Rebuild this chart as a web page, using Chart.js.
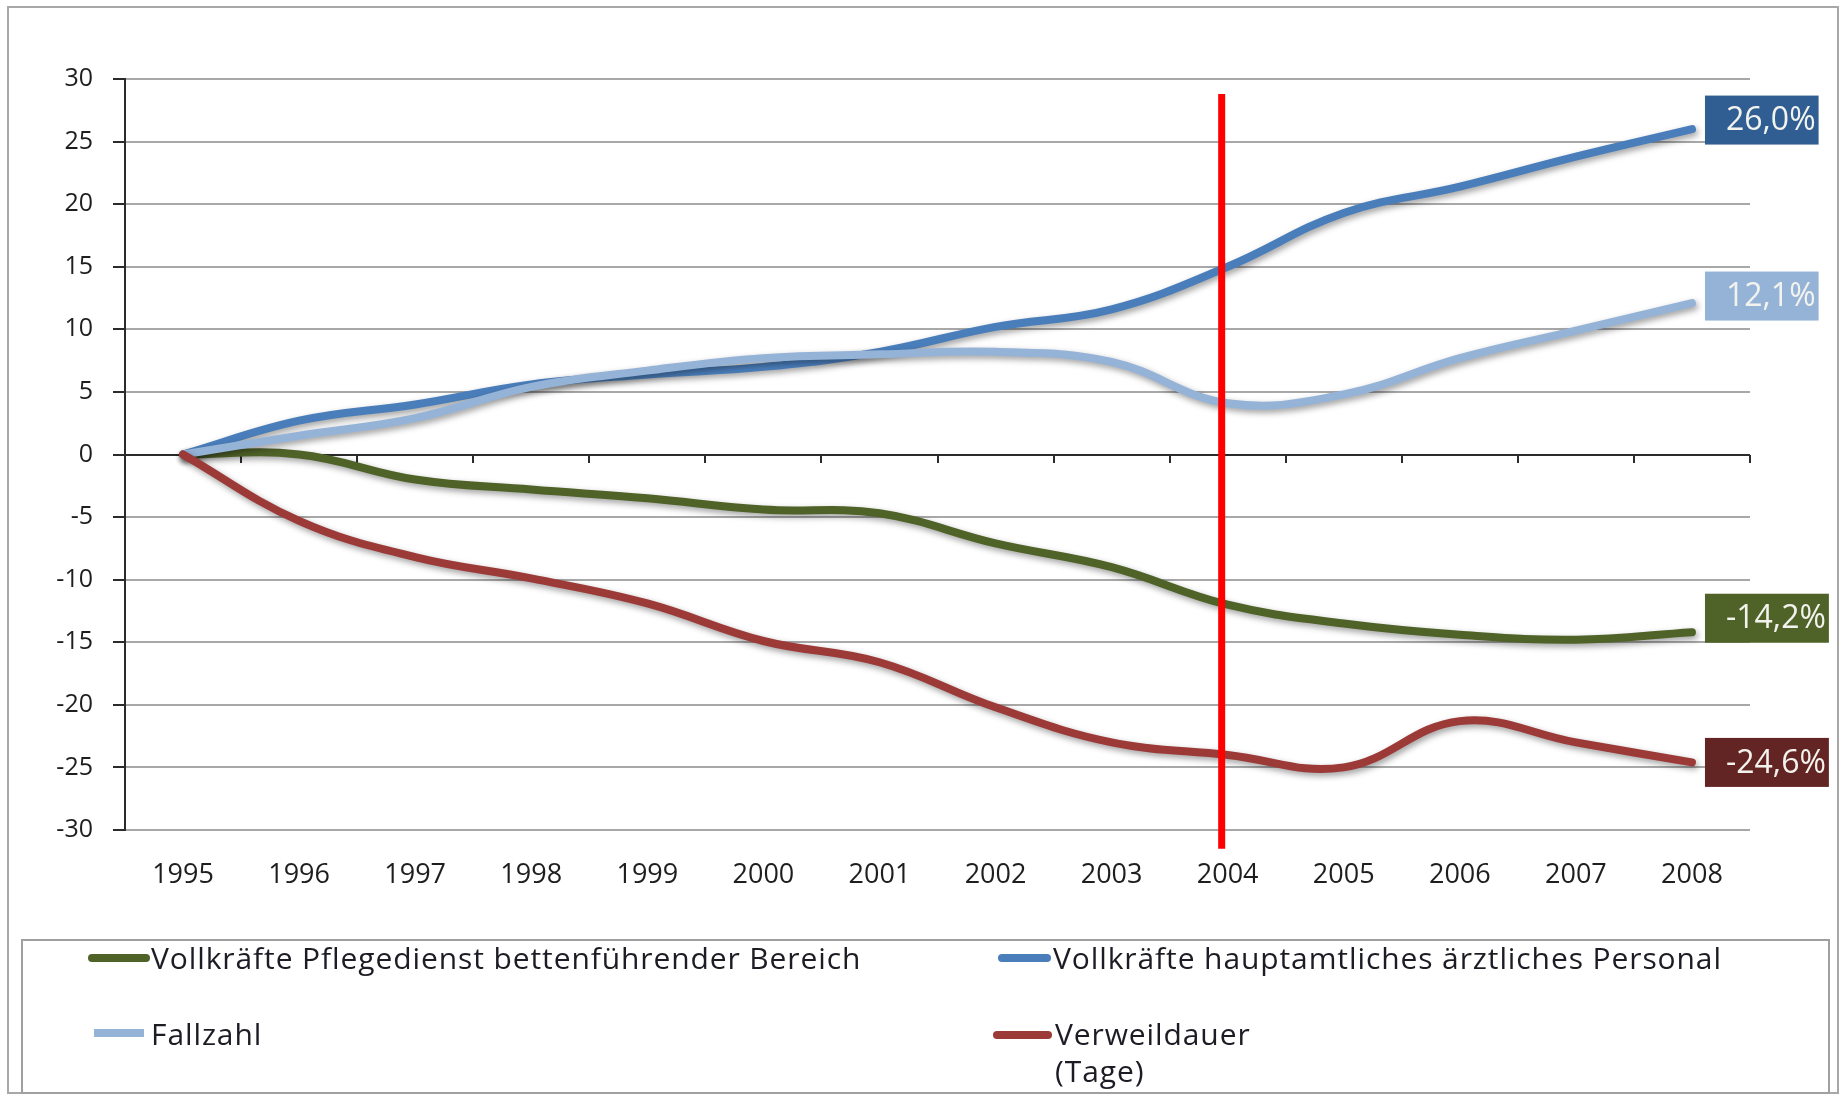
<!DOCTYPE html>
<html lang="de">
<head>
<meta charset="utf-8">
<title>Personal, Fallzahl und Verweildauer 1995–2008</title>
<script src="https://cdn.jsdelivr.net/npm/chart.js@4.4.1/dist/chart.umd.min.js"></script>
<style>
  html, body { margin: 0; padding: 0; background: #ffffff; }
  #wrap { position: relative; width: 1845px; height: 1101px; overflow: hidden; font-family: "Open Sans", sans-serif; }
  #frame { position: absolute; left: 7px; top: 6px; width: 1832px; height: 1088px; border: 2px solid #a8a8a8; box-sizing: border-box; }
  canvas { position: absolute; left: 0; top: 0; }
  #legend { position: absolute; left: 21px; top: 939px; width: 1809px; height: 155px; border: 2px solid #a0a0a0; box-sizing: border-box; background: #ffffff; }
  .swatch { position: absolute; height: 8px; border-radius: 4px; }
  .ltext { position: absolute; font-size: 30px; letter-spacing: 0.9px; line-height: 37px; color: #1c1c24; white-space: normal; }
</style>
</head>
<body>
<div id="wrap">
  <div id="frame"></div>
  <canvas id="chart" width="1845" height="1101"></canvas>
  <div id="legend"></div>
</div>
<script>
// Jahre auf der x-Achse
const years = ['1995','1996','1997','1998','1999','2000','2001','2002','2003','2004','2005','2006','2007','2008'];

// Veränderung gegenüber 1995 in Prozent
const pflegedienst = [0, 0.0, -2.0, -2.8, -3.5, -4.4, -4.7, -7.1, -9.0, -12.0, -13.5, -14.4, -14.8, -14.2];
const aerztlich    = [0, 2.7, 4.0, 5.6, 6.4, 7.0, 8.2, 10.2, 11.6, 15.0, 19.3, 21.4, 23.8, 26.0];
const fallzahl     = [0, 1.5, 2.9, 5.4, 6.7, 7.7, 8.0, 8.2, 7.4, 4.1, 4.8, 7.7, 9.9, 12.1];
const verweildauer = [0, -5.3, -8.2, -9.9, -11.9, -14.9, -16.6, -20.2, -23.0, -24.0, -25.0, -21.3, -23.0, -24.6];

const seriesNames = [
  'Vollkräfte Pflegedienst bettenführender Bereich',
  'Vollkräfte hauptamtliches ärztliches Personal',
  'Fallzahl',
  'Verweildauer (Tage)'
];
const seriesValues = [pflegedienst, aerztlich, fallzahl, verweildauer];
const lineColors  = ['#4F6228', '#4A7EBB', '#95B3D7', '#9C3A38'];
const labelColors = ['#4F6228', '#305E93', '#95B3D7', '#632523'];

// y-Achse
const yMin = -30, yMax = 30, yStep = 5;

// senkrechte Markierung beim Jahr 2004
const markerYear = '2004';
const markerTop = 28.8, markerBottom = -31.5;

const FONT = '"Open Sans", sans-serif';

// vertikaler Versatz der Endbeschriftungen (px)
const labelShift = [-14, -9, -7, 0];

const datasets = seriesNames.map((name, i) => ({
  label: name,
  data: seriesValues[i],
  borderColor: lineColors[i],
  backgroundColor: lineColors[i],
  borderWidth: 8,
  borderCapStyle: 'round',
  borderJoinStyle: 'round',
  pointRadius: 0,
  pointHoverRadius: 0,
  tension: 0.4,
  fill: false,
  order: seriesNames.length - i
}));

// Schatten unter den Linien
const shadowPlugin = {
  id: 'lineShadow',
  beforeDatasetDraw(chart) {
    const ctx = chart.ctx;
    ctx.save();
    ctx.shadowColor = 'rgba(0,0,0,0.38)';
    ctx.shadowBlur = 6;
    ctx.shadowOffsetX = 2;
    ctx.shadowOffsetY = 3;
  },
  afterDatasetDraw(chart) {
    chart.ctx.restore();
  }
};

// Nulllinie mit Teilstrichen zwischen den Kategorien
const zeroAxisPlugin = {
  id: 'zeroAxis',
  beforeDatasetsDraw(chart) {
    const { ctx, chartArea, scales } = chart;
    const y0 = Math.round(scales.y.getPixelForValue(0));
    ctx.save();
    ctx.strokeStyle = '#2b2b2b';
    ctx.lineWidth = 2;
    ctx.beginPath();
    ctx.moveTo(chartArea.left, y0);
    ctx.lineTo(chartArea.right, y0);
    const n = years.length;
    for (let k = 0; k <= n; k++) {
      const x = Math.round(scales.x.getPixelForValue(k - 0.5));
      ctx.moveTo(x, y0);
      ctx.lineTo(x, y0 + 8);
    }
    ctx.stroke();
    ctx.restore();
  }
};

// Wertbeschriftung am letzten Punkt jeder Reihe und rote Markierung
const endLabelPlugin = {
  id: 'endLabels',
  afterDatasetsDraw(chart) {
    const { ctx, scales } = chart;
    ctx.save();
    ctx.font = '32px ' + FONT;
    chart.data.datasets.forEach((ds, i) => {
      const meta = chart.getDatasetMeta(i);
      const last = meta.data[meta.data.length - 1];
      const v = ds.data[ds.data.length - 1];
      const text = v.toFixed(1).replace('.', ',') + '%';
      const tw = ctx.measureText(text).width;
      const h = 49;
      const x0 = last.x + 13;
      const w = tw + 24;
      const y0 = last.y + labelShift[i] - h / 2;
      ctx.fillStyle = labelColors[i];
      ctx.fillRect(x0, y0, w, h);
      ctx.fillStyle = '#f3f3ee';
      ctx.textAlign = 'right';
      ctx.textBaseline = 'middle';
      ctx.fillText(text, x0 + w - 3, y0 + h / 2 + 1);
    });
    // rote senkrechte Linie
    const xm = scales.x.getPixelForValue(years.indexOf(markerYear));
    ctx.strokeStyle = '#FF0000';
    ctx.lineWidth = 7;
    ctx.lineCap = 'butt';
    ctx.beginPath();
    ctx.moveTo(xm - 6, scales.y.getPixelForValue(markerTop));
    ctx.lineTo(xm - 6, scales.y.getPixelForValue(markerBottom));
    ctx.stroke();
    ctx.restore();
  }
};

const chart = new Chart(document.getElementById('chart'), {
  type: 'line',
  data: { labels: years, datasets },
  options: {
    responsive: false,
    animation: false,
    devicePixelRatio: 1,
    layout: { padding: { top: 79, right: 95, left: 0, bottom: 0 } },
    plugins: {
      legend: { display: false },
      tooltip: { enabled: false }
    },
    scales: {
      x: {
        type: 'category',
        offset: true,
        grid: { display: false, drawTicks: false },
        border: { display: false },
        ticks: {
          color: '#1e1e1e',
          font: { family: FONT, size: 27 },
          padding: 29,
          maxRotation: 0,
          autoSkip: false
        },
        afterFit(scale) { scale.height = 271; }
      },
      y: {
        min: yMin,
        max: yMax,
        grid: {
          color: '#a8a8a8',
          lineWidth: 2,
          tickLength: 12,
          tickColor: '#2b2b2b',
          tickWidth: 2
        },
        border: { display: true, color: '#2b2b2b', width: 2 },
        ticks: {
          stepSize: yStep,
          color: '#1e1e1e',
          font: { family: FONT, size: 25 },
          padding: 20
        },
        afterFit(scale) { scale.width = 125; }
      }
    }
  },
  plugins: [zeroAxisPlugin, shadowPlugin, endLabelPlugin]
});

// Legende in zwei Spalten (Koordinaten innerhalb des Legendenrahmens)
const legendSlots = [
  { sx: 65, sw: 62, sy: 17, tx: 128, ty: -2, tw: 780 },
  { sx: 975, sw: 53, sy: 17, tx: 1030, ty: -2, tw: 780 },
  { sx: 71, sw: 50, sy: 92, tx: 128, ty: 74, tw: 400 },
  { sx: 970, sw: 59, sy: 94, tx: 1032, ty: 74, tw: 230 }
];
const legend = document.getElementById('legend');
chart.data.datasets.forEach((ds, i) => {
  const s = legendSlots[i];
  const sw = document.createElement('div');
  sw.className = 'swatch';
  sw.style.left = s.sx + 'px';
  sw.style.top = (s.sy - 4) + 'px';
  sw.style.width = s.sw + 'px';
  sw.style.background = ds.borderColor;
  if (i === 2) sw.style.borderRadius = '0';
  legend.appendChild(sw);
  const t = document.createElement('div');
  t.className = 'ltext';
  t.style.left = s.tx + 'px';
  t.style.top = s.ty + 'px';
  t.style.width = s.tw + 'px';
  t.textContent = ds.label;
  legend.appendChild(t);
});
</script>
</body>
</html>
